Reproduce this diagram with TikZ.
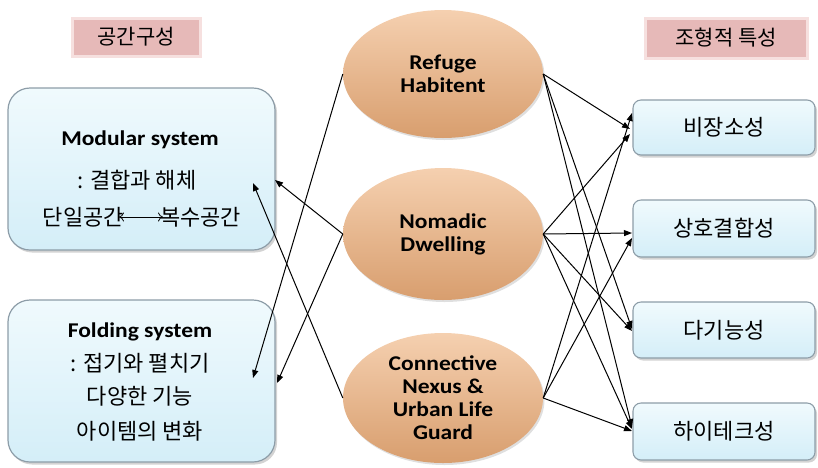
\documentclass[tikz,border=0pt]{standalone}
\usepackage{fontspec}
\setmainfont{Carlito}
\newfontfamily\kr{Noto Sans CJK KR}
\newfontfamily\enb[FakeStretch=1.12]{Carlito}
\usetikzlibrary{arrows.meta,shadows,shapes.geometric}
\definecolor{pinkfill}{HTML}{E6B9B8}
\definecolor{pinkglow}{HTML}{F6E0DF}
\definecolor{boxtop}{HTML}{F0FAFD}
\definecolor{boxbot}{HTML}{D4EEF8}
\definecolor{boxline}{HTML}{8D9DA8}
\definecolor{elltop}{HTML}{F5D0B0}
\definecolor{ellbot}{HTML}{D89E6E}
\tikzset{
  hdr/.style={rectangle, fill=pinkfill, draw=pinkglow, line width=3pt, inner sep=0pt,
    font=\kr\fontsize{21}{24}\selectfont},
  bigbox/.style={rectangle, rounded corners=22pt, draw=boxline, line width=1.2pt,
    top color=boxtop, bottom color=boxbot,
    drop shadow={opacity=0.35, shadow xshift=2pt, shadow yshift=-2.5pt}},
  smallbox/.style={rectangle, rounded corners=8pt, draw=boxline, line width=1.1pt,
    top color=boxtop, bottom color=boxbot, minimum width=182pt, inner sep=0pt,
    font=\kr\fontsize{22}{26}\selectfont,
    drop shadow={opacity=0.35, shadow xshift=2pt, shadow yshift=-2.5pt}},
  ell/.style={ellipse, minimum width=200pt, inner sep=0pt, draw=none,
    top color=elltop, bottom color=ellbot, align=center,
    font=\enb\bfseries\fontsize{21}{23}\selectfont,
    drop shadow={opacity=0.25, shadow xshift=1.5pt, shadow yshift=-2pt}},
  entitle/.style={font=\enb\bfseries\fontsize{21}{24}\selectfont, inner sep=0pt},
  krtext/.style={font=\kr\fontsize{22}{26}\selectfont, inner sep=0pt},
  arr/.style={-{Triangle[length=8pt,width=6pt]}, line width=1pt, black},
  dblarr/.style={{To[length=5pt,width=9pt]}-{To[length=5pt,width=9pt]}, line width=0.8pt},
}
\begin{document}
\begin{tikzpicture}[x=1pt,y=-1pt]
\useasboundingbox (0,0) rectangle (818,467);
% headers
\node[hdr, minimum width=128pt, minimum height=38pt] (h1) at (136,37) {공간구성};
\node[hdr, minimum width=162pt, minimum height=40pt] (h2) at (726,38) {조형적 특성};
% left boxes
\node[bigbox, minimum width=267pt, minimum height=162pt] (mod) at (141.5,169) {};
\node[bigbox, minimum width=267pt, minimum height=162pt] (fol) at (141.5,381) {};
\node[entitle] (mt1) at (140,140) {Modular system};
\node[krtext] (mt2) at (137,180) {: 결합과 해체};
\node[krtext, anchor=east] (mt3a) at (124,217) {단일공간};
\node[krtext, anchor=west] (mt3b) at (160,217) {복수공간};
\draw[dblarr] ([xshift=-5pt]mt3a.east) -- ([xshift=3pt]mt3b.west);
\node[entitle] (ft1) at (140,332) {Folding system};
\node[krtext] (ft2) at (140,363) {: 접기와 펼치기};
\node[krtext] (ft3) at (140,396) {다양한 기능};
\node[krtext] (ft4) at (140,431) {아이템의 변화};
% ellipses
\node[ell, minimum height=128pt] (ref) at (443,74) {Refuge\\Habitent};
\node[ell, minimum height=132pt] (nom) at (443,234) {Nomadic\\Dwelling};
\node[ell, minimum height=130pt] (con) at (443,398) {Connective\\Nexus \&\\Urban Life\\Guard};
% right boxes
\node[smallbox, minimum height=55pt] (r1) at (724,127.5) {비장소성};
\node[smallbox, minimum height=57pt] (r2) at (724,228.5) {상호결합성};
\node[smallbox, minimum height=56pt] (r3) at (724,330) {다기능성};
\node[smallbox, minimum height=57pt] (r4) at (724,431.5) {하이테크성};
% arrow end coordinates
\coordinate (mA) at (253,183);
\coordinate (mB) at (275,180);
\coordinate (fA) at (253,378);
\coordinate (fB) at (277,383);
\coordinate (b1) at (632,113);
\coordinate (b2) at (630,129);
\coordinate (b3) at (630,134);
\coordinate (s1) at (632,233);
\coordinate (s2) at (632,238);
\coordinate (d1) at (632,329);
\coordinate (d2) at (632,331);
\coordinate (k1) at (632,427);
\coordinate (k2) at (632,429);
\coordinate (k3) at (632,431);
% left connectors
\draw[arr] (ref.west) -- (fA);
\draw[arr] (nom.west) -- (mB);
\draw[arr] (nom.west) -- (fB);
\draw[arr] (con.west) -- (mA);
% right connectors
\draw[arr] (ref.east) -- (b2);
\draw[arr] (ref.east) -- (d1);
\draw[arr] (ref.east) -- (k1);
\draw[arr] (nom.east) -- (b3);
\draw[arr] (nom.east) -- (s1);
\draw[arr] (nom.east) -- (d2);
\draw[arr] (nom.east) -- (k2);
\draw[arr] (con.east) -- (b1);
\draw[arr] (con.east) -- (s2);
\draw[arr] (con.east) -- (k3);
\end{tikzpicture}
\end{document}
